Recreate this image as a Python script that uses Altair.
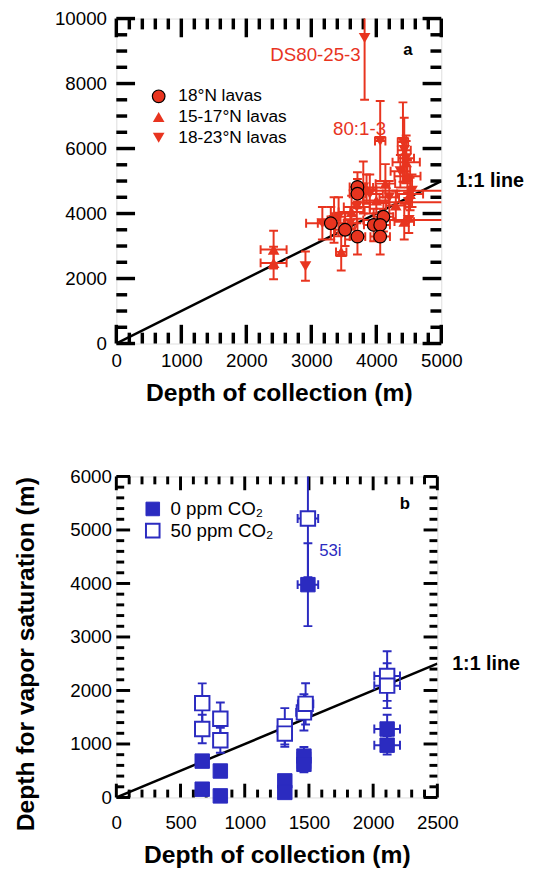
import altair as alt
import pandas as pd

RED = "#E8341F"
BLUE = "#2B2BC0"
FONT = "Liberation Sans"

# ---------------- Panel a data ----------------
a_series = ["18°N lavas", "15-17°N lavas", "18-23°N lavas"]

a18_x = [3710, 3710, 3300, 3520, 3710, 3960, 4110, 4060, 4060]
a18_y = [4820, 4610, 3700, 3500, 3290, 3650, 3900, 3650, 3290]
a18_xe = [120, 120, 200, 150, 120, 150, 150, 150, 150]
a18_ye = [450, 450, 500, 500, 550, 500, 450, 500, 550]

a1517_x = [2420, 2420, 3460, 4140, 4460, 4480, 4430, 3850, 4000, 3620, 4300, 4520]
a1517_y = [2890, 2480, 2820, 4920, 5580, 5150, 3750, 4750, 4400, 4050, 4250, 4600]
a1517_xe = [200, 200, 80, 150, 210, 200, 150, 150, 200, 200, 150, 200]
a1517_ye = [580, 500, 570, 600, 650, 500, 550, 450, 400, 500, 450, 500]

a1823_x = [3820, 2910, 4060, 4410, 4430, 4460, 4370, 3800, 3900, 3170, 3350, 3700, 4500, 4550, 4500, 3420, 4200, 3600]
a1823_y = [9400, 2380, 6230, 6200, 5950, 5700, 5300, 4800, 4600, 3700, 3800, 4200, 4350, 4700, 3800, 3900, 4500, 3700]
a1823_xe = [0, 0, 80, 80, 100, 120, 150, 150, 200, 250, 100, 200, 700, 700, 700, 100, 150, 100]
a1823_ye = [1900, 450, 1230, 1220, 1000, 700, 500, 800, 600, 500, 700, 500, 450, 500, 400, 600, 500, 500]

a_xticks_major = [0, 1000, 2000, 3000, 4000, 5000]
a_xticks_minor = [200, 400, 600, 800, 1200, 1400, 1600, 1800, 2200, 2400, 2600, 2800,
                  3200, 3400, 3600, 3800, 4200, 4400, 4600, 4800]
a_yticks_major = [0, 2000, 4000, 6000, 8000, 10000]
a_yticks_minor = [500, 1000, 1500, 2500, 3000, 3500, 4500, 5000, 5500, 6500, 7000, 7500,
                  8500, 9000, 9500]
a_line = [0, 5000]
a_notes = ["DS80-25-3", "80:1-3"]
a_notes_x = [3760, 4150]
a_notes_y = [8870, 6590]

# ---------------- Panel b data ----------------
b_series = ["0 ppm CO₂", "50 ppm CO₂"]

b0_x = [669, 669, 810, 810, 1312, 1312, 1461, 1461, 1492, 2109, 2109]
b0_y = [680, 155, 495, 30, 310, 95, 773, 620, 3978, 1280, 977]
b0_xe = [0, 0, 0, 0, 0, 0, 50, 50, 80, 100, 100]
b0_ye = [100, 0, 100, 0, 0, 0, 170, 150, 775, 266, 173]

b50_x = [669, 669, 810, 810, 1312, 1312, 1461, 1474, 1492, 2109, 2109]
b50_y = [1763, 1280, 1472, 1070, 1330, 1194, 1590, 1750, 5215, 2270, 2090]
b50_xe = [0, 0, 0, 0, 40, 40, 60, 60, 80, 100, 100]
b50_ye = [370, 265, 303, 235, 340, 248, 340, 384, 1100, 464, 420]

b_xticks_major = [0, 500, 1000, 1500, 2000, 2500]
b_xticks_minor = [100, 200, 300, 400, 600, 700, 800, 900, 1100, 1200, 1300, 1400,
                  1600, 1700, 1800, 1900, 2100, 2200, 2300, 2400]
b_yticks_major = [0, 1000, 2000, 3000, 4000, 5000, 6000]
b_yticks_minor = [200, 400, 600, 800, 1200, 1400, 1600, 1800, 2200, 2400, 2600, 2800,
                  3200, 3400, 3600, 3800, 4200, 4400, 4600, 4800, 5200, 5400, 5600, 5800]
b_line = [0, 2500]
b_note = "53i"
b_note_x = 1580
b_note_y = 4600

LABEL_FS = 19
TITLE_FS = 25


def err_df(xs, ys, xe, ye):
    return pd.DataFrame({
        "x": xs, "y": ys, "xe": xe, "ye": ye,
        "xlo": [a - b for a, b in zip(xs, xe)], "xhi": [a + b for a, b in zip(xs, xe)],
        "ylo": [a - b for a, b in zip(ys, ye)], "yhi": [a + b for a, b in zip(ys, ye)],
    })


def build_panel(W, H, xdom, ydom, xmaj, xmin, ymaj, ymin, majL, minL, tw,
                xaxis, yaxis, line_vals, err_frames, color, cap):
    xs = alt.Scale(domain=xdom, nice=False, zero=False)
    ys = alt.Scale(domain=ydom, nice=False, zero=False)

    def X(f):
        return alt.X(f, type="quantitative", scale=xs, axis=xaxis)

    def Y(f):
        return alt.Y(f, type="quantitative", scale=ys, axis=yaxis)

    layers = []
    # ticks (inward, mirrored)
    for vals, L in ((xmaj, majL), (xmin, minL)):
        d = alt.Chart(pd.DataFrame({"v": vals}))
        layers.append(d.mark_rule(color="black", strokeWidth=tw).encode(
            x=X("v"), y=alt.value(H), y2=alt.value(H - L)))
        layers.append(d.mark_rule(color="black", strokeWidth=tw).encode(
            x=X("v"), y=alt.value(0), y2=alt.value(L)))
    for vals, L in ((ymaj, majL), (ymin, minL)):
        d = alt.Chart(pd.DataFrame({"v": vals}))
        layers.append(d.mark_rule(color="black", strokeWidth=tw).encode(
            y=Y("v"), x=alt.value(0), x2=alt.value(L)))
        layers.append(d.mark_rule(color="black", strokeWidth=tw).encode(
            y=Y("v"), x=alt.value(W), x2=alt.value(W - L)))
    # 1:1 line
    layers.append(alt.Chart(pd.DataFrame({"x": line_vals, "y": line_vals})).mark_line(
        color="black", strokeWidth=2.5, clip=True).encode(x=X("x"), y=Y("y")))
    layers.append(alt.Chart(pd.DataFrame({"y": [line_vals[1]], "t": ["1:1 line"]})).mark_text(
        align="left", baseline="middle", fontSize=20, fontWeight="bold", font=FONT,
        color="black").encode(x=alt.value(W + 15), y=Y("y"), text="t"))
    # error bars
    for df in err_frames:
        c = alt.Chart(df)
        layers.append(c.mark_rule(color=color, strokeWidth=2, clip=True).encode(
            x=X("x"), y=Y("ylo"), y2="yhi"))
        layers.append(c.mark_rule(color=color, strokeWidth=2, clip=True).encode(
            y=Y("y"), x=X("xlo"), x2="xhi"))
        cy = c.transform_filter("datum.ye > 0")
        layers.append(cy.mark_tick(color=color, orient="horizontal", size=cap, thickness=2,
                                   clip=True, opacity=1).encode(x=X("x"), y=Y("ylo")))
        layers.append(cy.mark_tick(color=color, orient="horizontal", size=cap, thickness=2,
                                   clip=True, opacity=1).encode(x=X("x"), y=Y("yhi")))
        cx = c.transform_filter("datum.xe > 0")
        layers.append(cx.mark_tick(color=color, orient="vertical", size=cap, thickness=2,
                                   clip=True, opacity=1).encode(x=X("xlo"), y=Y("y")))
        layers.append(cx.mark_tick(color=color, orient="vertical", size=cap, thickness=2,
                                   clip=True, opacity=1).encode(x=X("xhi"), y=Y("y")))
    return layers, X, Y


def xaxis_def(vals, pad, title, tpad):
    return alt.Axis(values=vals, format="d", ticks=False, domain=False, grid=False,
                    labelFontSize=LABEL_FS, labelFont=FONT, labelColor="black", labelPadding=pad,
                    labelFlush=False, labelOverlap=False,
                    title=title, titleFontSize=TITLE_FS, titleFont=FONT, titleFontWeight="bold",
                    titleColor="black", titlePadding=tpad)


# ---------------- Panel a ----------------
WA, HA = 330, 330
xax_a = xaxis_def(a_xticks_major, 8, "Depth of collection (m)", 11)
yax_a = alt.Axis(values=a_yticks_major, format="d", ticks=False, domain=False, grid=False,
                 labelFontSize=LABEL_FS, labelFont=FONT, labelColor="black", labelPadding=10,
                 labelFlush=False, labelOverlap=False, title=None)
df18 = err_df(a18_x, a18_y, a18_xe, a18_ye)
df1517 = err_df(a1517_x, a1517_y, a1517_xe, a1517_ye)
df1823 = err_df(a1823_x, a1823_y, a1823_xe, a1823_ye)
la, XA, YA = build_panel(WA, HA, [0, 5000], [0, 10000], a_xticks_major, a_xticks_minor,
                         a_yticks_major, a_yticks_minor, 19, 11, 3.5, xax_a, yax_a, a_line,
                         [df1517, df1823, df18], RED, 9)
la.append(alt.Chart(df1517).mark_point(shape="triangle-up", filled=True, fill=RED,
                                       strokeWidth=0, size=140, opacity=1).encode(
    x=XA("x"), y=YA("y")))
la.append(alt.Chart(df1823).mark_point(shape="triangle-down", filled=True, fill=RED,
                                       strokeWidth=0, size=140, opacity=1, clip=True).encode(
    x=XA("x"), y=YA("y")))
la.append(alt.Chart(df18).mark_point(shape="circle", filled=True, fill=RED, stroke="black",
                                     strokeWidth=1.2, size=165, opacity=1).encode(
    x=XA("x"), y=YA("y")))
la.append(alt.Chart(pd.DataFrame({"x": a_notes_x, "y": a_notes_y, "t": a_notes})).mark_text(
    align="right", baseline="middle", fontSize=19, font=FONT, color=RED).encode(
    x=XA("x"), y=YA("y"), text="t"))
la.append(alt.Chart(pd.DataFrame({"t": ["a"]})).mark_text(
    align="center", baseline="middle", fontSize=17, fontWeight="bold", font=FONT,
    color="black").encode(x=alt.value(296), y=alt.value(32), text="t"))
a_shapes = ["circle", "triangle-up", "triangle-down"]
for i, name in enumerate(a_series):
    one = alt.Chart(pd.DataFrame({"t": [name]}))
    la.append(one.mark_point(shape=a_shapes[i], filled=True, fill=RED,
                             stroke="black" if i == 0 else RED,
                             strokeWidth=1.2 if i == 0 else 0,
                             size=165 if i == 0 else 140, opacity=1).encode(
        x=alt.value(43), y=alt.value(79 + 21 * i)))
    la.append(one.mark_text(align="left", baseline="middle", fontSize=17.5, font=FONT,
                            color="black").encode(
        x=alt.value(63), y=alt.value(79 + 21 * i), text="t"))
panel_a = alt.layer(*la).properties(width=WA, height=HA)

# ---------------- Panel b ----------------
WB, HB = 326, 326
xax_b = xaxis_def(b_xticks_major, 16, "Depth of collection (m)", 11)
yax_b = alt.Axis(values=b_yticks_major, format="d", ticks=False, domain=False, grid=False,
                 labelFontSize=LABEL_FS, labelFont=FONT, labelColor="black", labelPadding=5,
                 labelFlush=False, labelOverlap=False,
                 title="Depth for vapor saturation (m)", titleFontSize=TITLE_FS, titleFont=FONT,
                 titleFontWeight="bold", titleColor="black", titlePadding=32, titleY=180)
df0 = err_df(b0_x, b0_y, b0_xe, b0_ye)
df50 = err_df(b50_x, b50_y, b50_xe, b50_ye)
lb, XB, YB = build_panel(WB, HB, [0, 2500], [0, 6000], b_xticks_major, b_xticks_minor,
                         b_yticks_major, b_yticks_minor, 14, 8, 3, xax_b, yax_b, b_line,
                         [df0, df50], BLUE, 9)
lb.append(alt.Chart(df0).mark_point(shape="square", filled=True, fill=BLUE, stroke=BLUE,
                                    strokeWidth=1, size=215, opacity=1).encode(
    x=XB("x"), y=YB("y")))
lb.append(alt.Chart(df50).mark_point(shape="square", filled=True, fill="white", stroke=BLUE,
                                     strokeWidth=2, size=215, opacity=1).encode(
    x=XB("x"), y=YB("y")))
lb.append(alt.Chart(pd.DataFrame({"x": [b_note_x], "y": [b_note_y], "t": [b_note]})).mark_text(
    align="left", baseline="middle", fontSize=17, font=FONT, color=BLUE).encode(
    x=XB("x"), y=YB("y"), text="t"))
lb.append(alt.Chart(pd.DataFrame({"t": ["b"]})).mark_text(
    align="center", baseline="middle", fontSize=17, fontWeight="bold", font=FONT,
    color="black").encode(x=alt.value(293), y=alt.value(28), text="t"))
for i, name in enumerate(b_series):
    one = alt.Chart(pd.DataFrame({"t": [name]}))
    la_fill = BLUE if i == 0 else "white"
    lb.append(one.mark_point(shape="square", filled=True, fill=la_fill, stroke=BLUE,
                             strokeWidth=1 if i == 0 else 2, size=190, opacity=1).encode(
        x=alt.value(37), y=alt.value(33 + 22 * i)))
    lb.append(one.mark_text(align="left", baseline="middle", fontSize=19, font=FONT,
                            color="black").encode(
        x=alt.value(55), y=alt.value(33 + 22 * i), text="t"))
panel_b = alt.layer(*lb).properties(width=WB, height=HB)

chart = alt.vconcat(panel_a, panel_b, spacing=61).properties(
    padding={"left": 5, "top": -6, "right": 0, "bottom": 0}
).configure_view(stroke="black", strokeWidth=3.5).configure(background="white")

chart.save("out.html", embed_options={"renderer": "svg", "actions": False})
